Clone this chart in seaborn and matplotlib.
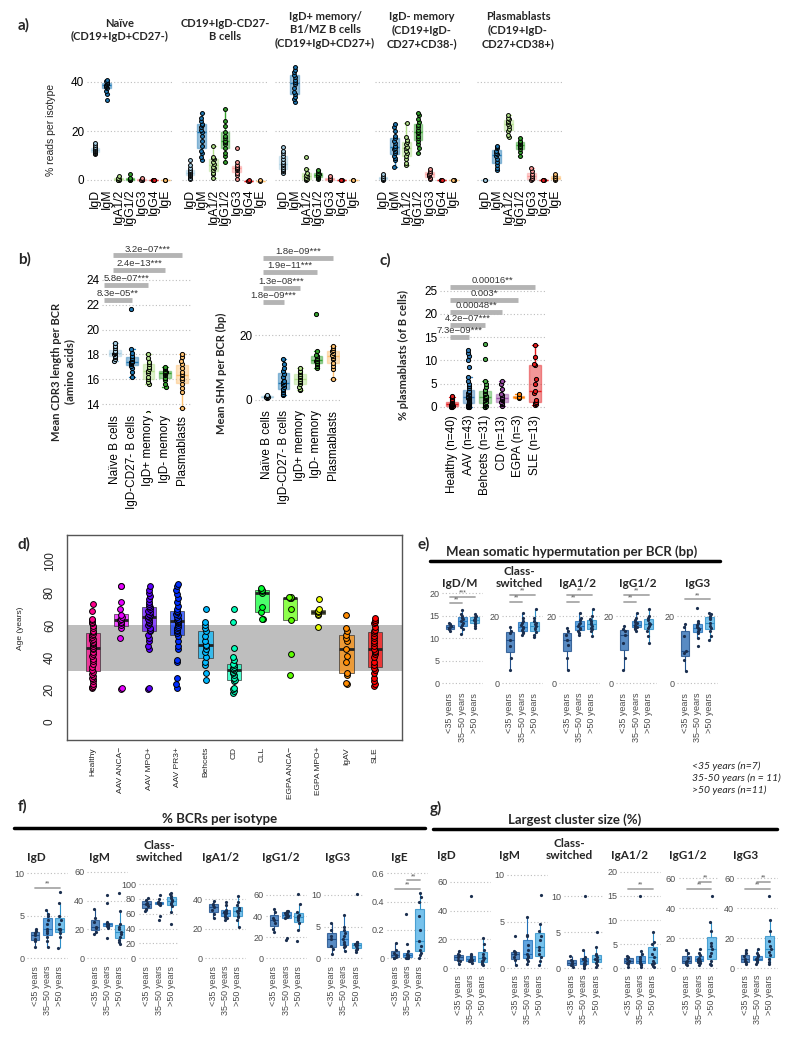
import numpy as np
import matplotlib
matplotlib.use("Agg")
import matplotlib.pyplot as plt
import seaborn as sns
from matplotlib.lines import Line2D

sns.set_style("white")
plt.rcParams["font.family"] = ["Liberation Sans", "DejaVu Sans"]
BOLD = ["Lato", "DejaVu Sans"]

# ---------------- a) % reads per isotype ----------------
isotypes = ["IgD", "IgM", "IgA1/2", "IgG1/2", "IgG3", "IgG4", "IgE"]
cell_titles = ["Naïve\n(CD19+IgD+CD27-)", "CD19+IgD-CD27-\nB cells",
               "IgD+ memory/\nB1/MZ B cells\n(CD19+IgD+CD27+)",
               "IgD- memory\n(CD19+IgD-\nCD27+CD38-)", "Plasmablasts\n(CD19+IgD-\nCD27+CD38+)"]
naive_reads = [[10.5, 11, 11.2, 11.5, 11.8, 12, 12.3, 12.6, 13, 13.5, 14.2, 15],
               [32.5, 35, 36.5, 37.5, 38, 38.3, 38.7, 39, 39.3, 39.7, 40, 40.3, 40.8],
               [0, 0.1, 0.2, 0.4, 0.7, 1.5],
               [0, 0.1, 0.3, 0.5, 1.0, 2.5],
               [0, 0.1, 0.2, 0.4, 0.8],
               [0, 0.05, 0.1, 0.2],
               [0, 0.05, 0.1]]
dn_reads = [[0.5, 1, 1.5, 2, 2.2, 2.5, 3, 3.2, 3.6, 4.2, 5, 6, 8],
            [8, 9.5, 11, 12, 14, 16, 18, 19.5, 20.5, 21.5, 22.5, 23, 24, 25.5, 27.5],
            [1, 2.5, 3, 4, 5, 5.5, 6.5, 7.5, 8.5, 9, 9.5, 14],
            [7.5, 10, 11, 13, 14.5, 15.5, 16, 17, 18, 19.5, 22, 24, 29],
            [0.5, 2, 3, 4, 4.5, 5, 5.5, 6, 7.5, 13],
            [-0.4, -0.3, -0.2],
            [-0.3, -0.2]]
igdp_reads = [[3, 3.5, 4, 4.5, 5.5, 6, 6.5, 7.5, 8.5, 10, 11, 12, 13.5],
              [32, 33, 34, 35, 36, 37.5, 39, 40, 41, 42, 43, 44, 45, 46],
              [0, 0.3, 0.6, 1, 1.5, 2, 3, 4.5, 9.5],
              [0.5, 1, 1.3, 1.6, 2, 2.2, 2.5, 3, 3.5, 4],
              [0, 0.2, 0.5, 1, 1.5],
              [0, 0.1, 0.2],
              [0, 0.1]]
igdn_reads = [[0, 0.3, 0.6, 1, 1.5, 2.5],
              [5.5, 8, 9, 10, 11, 12, 12.5, 13, 14, 15, 16, 17, 18, 20, 21.5, 23],
              [6, 7, 8.5, 10, 11, 12, 13, 13.5, 14.5, 15.5, 16.5, 17.5, 23.3],
              [11, 13, 14.5, 16, 17, 18, 19, 19.5, 20.5, 21.5, 22.5, 23.5, 25, 26.5, 27.5],
              [0.5, 1, 1.5, 2, 2.5, 3, 3.5, 4.5],
              [0, 0.1, 0.2],
              [0, 0.1, 0.2]]
pb_reads = [[0, 0.05],
            [4, 5, 6, 7.5, 8.5, 10, 10.5, 11, 12, 13, 13.5, 14],
            [17.5, 18.5, 20, 21, 22, 23, 23.5, 24, 25, 25.5, 26.5],
            [10, 11.5, 12.5, 13.5, 14, 14.5, 15, 15.5, 16, 17],
            [0, 0.3, 0.8, 1.5, 2.5, 3.5, 5],
            [0, 0.1, 0.2],
            [0, 0.3, 1, 1.5, 2.5]]

# ---------------- b) CDR3 / SHM per cell type ----------------
cell_types = ["Naïve B cells", "IgD-CD27- B cells", "IgD+ memory", "IgD- memory", "Plasmablasts"]
cdr3_vals = [[17.5, 17.6, 17.8, 17.9, 18, 18.1, 18.1, 18.2, 18.3, 18.5, 18.7, 18.9],
             [16.2, 16.6, 16.9, 17.1, 17.2, 17.3, 17.4, 17.4, 17.5, 17.6, 17.7, 17.9, 18.1, 18.4, 21.7],
             [13.3, 15.6, 15.8, 16, 16.2, 16.5, 16.7, 16.8, 17, 17.2, 17.4, 17.7, 18],
             [15.4, 15.6, 15.9, 16.1, 16.3, 16.4, 16.5, 16.6, 16.6, 16.7, 16.8, 16.9, 17],
             [13.7, 15, 15.3, 15.6, 15.9, 16.1, 16.3, 16.4, 16.6, 16.9, 17.2, 17.5, 17.8, 18]]
cdr3_sig = [("8.3e−05**", -0.65, 1, 22.4), ("5.8e−07***", -0.65, 2, 23.6),
            ("2.4e−13***", -0.1, 3, 24.8), ("3.2e−07***", -0.1, 4, 26.0)]
shm_vals = [[0.6, 0.8, 0.9, 1, 1, 1.1, 1.2, 1.3, 1.5],
            [1.5, 2, 2.5, 3, 3.5, 4, 4.5, 5, 5.5, 6, 7, 8, 9, 10, 11, 12.5],
            [3, 3.5, 4, 5, 5.5, 6, 6.5, 7, 7.5, 8, 8.5, 9, 10],
            [10, 10.5, 11, 11.5, 12, 12, 12.5, 13, 13.5, 14, 15, 26.5],
            [6.5, 9.5, 10.5, 11.5, 12.5, 13, 13.5, 14, 14.5, 15, 15.5, 16, 16.5]]
shm_sig = [("1.8e−09***", -0.25, 1, 30.2), ("1.3e−08***", -0.25, 2, 34.5),
           ("1.9e−11***", -0.25, 3, 39.4), ("1.8e−09***", -0.25, 4, 43.8)]

# ---------------- c) % plasmablasts per disease ----------------
diseases = ["Healthy (n=40)", "AAV (n=43)", "Behcets (n=31)", "CD (n=13)", "EGPA (n=3)", "SLE (n=13)"]
disease_colors = ["#e41a1c", "#377eb8", "#4daf4a", "#984ea3", "#ff7f00", "#e41a1c"]
plasma_vals = [[0, 0, 0.1, 0.1, 0.2, 0.2, 0.3, 0.3, 0.4, 0.4, 0.5, 0.5, 0.6, 0.7, 0.8, 0.9, 1.0, 1.2, 1.4, 1.7, 2.0, 2.2],
               [0, 0, 0, 0.1, 0.2, 0.3, 0.4, 0.5, 0.6, 0.7, 0.8, 0.9, 1.0, 1.1, 1.3, 1.5, 1.7, 1.8, 1.9, 2.0,
                2.0, 2.1, 2.2, 2.4, 2.6, 2.8, 3.0, 3.1, 3.2, 3.4, 4.0, 4.5, 5.0, 5.5, 6.5, 8.5, 10, 11, 11.6, 12.3],
               [0, 0, 0.1, 0.3, 0.5, 0.7, 0.9, 1.1, 1.4, 1.7, 1.9, 2.0, 2.1, 2.4, 2.7, 3.0, 3.3, 3.6, 4.2, 5.0, 5.5, 10.3, 13.5],
               [0.2, 0.5, 0.7, 1.0, 1.4, 1.7, 1.8, 2.1, 2.5, 2.8, 3.8, 4.8, 5.5],
               [1.8, 2.0, 2.7],
               [0.3, 0.5, 0.8, 1.0, 1.5, 3.0, 3.3, 4.8, 6.0, 9.0, 9.3, 10.7, 13.3]]
plasma_sig = [("7.3e−09***", -0.1, 1, 15.0), ("4.2e−07***", -0.1, 2, 17.6), ("0.00048**", -0.1, 3, 20.5),
              ("0.003*", -0.1, 4, 23.0), ("0.00016**", -0.1, 5, 25.8)]

# ---------------- d) age per disease ----------------
age_groups = ["Healthy", "AAV ANCA−", "AAV MPO+", "AAV PR3+", "Behcets", "CD", "CLL",
              "EGPA ANCA−", "EGPA MPO+", "IgAV", "SLE"]
age_colors = ["#FF008B", "#E800FF", "#5D00FF", "#002EFF", "#00B9FF", "#00FFB9", "#00FF2E",
              "#5DFF00", "#E8FF00", "#FF8B00", "#FF0000"]
age_vals = [[20.5, 21.5, 22, 23.5, 25, 26.5, 27, 28, 29.5, 31, 32, 34, 36, 37.5, 39, 40.5, 42, 43.5, 45, 46, 47, 48,
             48.5, 49.5, 50.5, 51.5, 52.5, 53.5, 54.5, 55.5, 56.5, 58, 59.5, 61, 62, 63, 64, 69, 73],
            [20, 20.5, 52, 58, 60, 61, 62, 63, 63.5, 64, 65, 66, 70, 74, 84, 84.5],
            [20, 21, 45, 47, 50, 52, 54, 56, 57, 58, 60, 61, 62, 63, 64, 65, 65.5, 66, 67, 68, 69, 70, 71, 72, 73,
             74, 76, 78, 80, 82, 84],
            [21, 23, 27, 37, 38, 45, 47, 50, 53, 55, 56, 57, 58, 59, 60, 61, 62, 62.5, 63, 63.5, 64, 65, 66, 67, 68,
             69, 70, 72, 74, 77, 79, 82, 84, 85.5],
            [26, 30, 35, 37, 40, 43, 45, 47, 47.5, 50, 53, 56, 58, 60, 62, 70],
            [18, 19, 20, 21, 25, 26, 27, 29, 30, 31, 32, 32.5, 33, 34, 35, 36, 38, 40, 46, 62, 70],
            [63.5, 64, 68, 71, 80, 81, 81.5, 82, 83],
            [29, 42, 63, 70, 76.5, 76.8, 77, 77.3, 77.6],
            [58.5, 66, 67, 68, 68.5, 69, 70, 76],
            [23, 24, 29, 30, 37, 41, 45, 50, 52, 54, 56, 58, 66],
            [22, 23, 25, 27, 30, 32, 33, 35, 37, 40, 42, 43, 44, 45, 47, 49, 50, 52, 53, 55, 56, 57, 59, 61, 62,
             63, 64.5]]
age_band = (31.5, 60)

# ---------------- e/f/g) by age group ----------------
age_bins = ["<35 years", "35–50 years", ">50 years"]
age_fill = ["#2f6eb5", "#3a8fd9", "#55b3e8"]
age_line = ["#1f4f8a", "#2270b8", "#2d8fc8"]

e_titles = ["IgD/M", "Class-\nswitched", "IgA1/2", "IgG1/2", "IgG3"]
e_igdm = [[11.7, 12, 12.3, 12.5, 12.8, 13.2, 13.5],
          [11, 12, 12.5, 13, 13.5, 13.8, 14.2, 14.6, 15, 15.5, 16.3],
          [12.3, 12.8, 13.2, 13.5, 13.8, 14, 14.2, 14.5, 14.8, 15, 15.3]]
e_cs = [[4.1, 7.5, 11.2, 13, 14.8, 15.6, 16.8],
        [14.3, 14.8, 15.2, 15.8, 16.3, 16.8, 17.2, 17.8, 18.5, 19.5, 21],
        [13.8, 14.5, 15.3, 16, 16.5, 17, 17.5, 18, 18.5, 19.5, 22]]
e_iga = [[4.1, 7.5, 11.5, 13, 14.5, 15.5, 16.5],
         [14.5, 15, 15.5, 16, 16.5, 17, 17.5, 18, 18.8, 19.5, 21],
         [14, 15.5, 16, 16.5, 17, 17.5, 18, 18.5, 19, 20, 22]]
e_igg = [[4.1, 7.5, 12, 14.5, 15.5, 16.2, 17],
         [15.5, 16, 16.5, 16.8, 17, 17.3, 17.8, 18.2, 18.8, 19.5, 21],
         [12, 14, 15.5, 16.5, 17, 17.5, 18, 18.8, 19.5, 20, 22]]
e_igg3 = [[3.8, 7, 9, 9.5, 14, 16.8, 17.7],
          [11, 13.5, 15, 15.5, 16, 16.3, 16.8, 17.3, 17.8, 18.5, 22.5],
          [13, 14, 15.5, 16.5, 17, 18, 19, 19.5, 20, 20.5, 21]]
e_sigs = [[(0, 1, 17.8, "**"), (0, 2, 19.2, "***")],
          [(0, 1, 24.3, "**"), (0, 2, 26.2, "**")],
          [(0, 1, 24.3, "**"), (0, 2, 26.2, "**")],
          [(0, 1, 24.3, "**"), (0, 2, 26.2, "**")],
          [(0, 2, 25.0, "**")]]

f_titles = ["IgD", "IgM", "Class-\nswitched", "IgA1/2", "IgG1/2", "IgG3", "IgE"]
f_igd = [[1.3, 2, 2.3, 2.7, 3, 3.2, 3.4],
         [1.3, 2, 2.5, 3, 3.2, 3.5, 4, 4.5, 5, 5.2, 5.7],
         [1.2, 2.5, 3, 3.3, 3.5, 4, 4.5, 5, 6.5, 7.8, 3.4]]
f_igm = [[17, 18, 21, 22, 25, 28, 34],
         [14, 21, 22, 22.5, 23, 23.5, 24, 24.5, 25, 38, 44],
         [10, 11, 12.5, 15, 17, 18, 20, 22, 24, 33, 45]]
f_cs = [[64, 66, 70, 73, 75, 78, 81],
        [52, 57, 72, 73, 74, 74, 75, 75, 76, 80, 85],
        [46, 62, 70, 73, 75, 77, 79, 81, 84, 86, 88]]
f_iga = [[27, 30, 33, 35, 36, 37, 39],
         [26, 27, 28, 29, 30, 31, 31.5, 32, 33, 36, 38],
         [21, 26, 28, 29, 31, 32, 33, 34, 36, 38, 42]]
f_igg = [[25, 28, 33, 36, 38, 44, 47],
         [17, 19, 38, 39, 40, 41, 42, 43, 44, 44.5, 45],
         [16, 27, 33, 36, 38, 39, 40, 41, 44, 51, 61]]
f_igg3 = [[0.7, 1.5, 2, 3, 3.5, 4.5, 5.5],
          [1.2, 1.8, 2, 2.3, 2.6, 3, 3.5, 4, 4.5, 5, 6.8],
          [1, 1.3, 1.5, 1.7, 2, 2.1, 2.3, 2.4, 2.5, 2.6, 10.2]]
f_ige = [[0, 0.005, 0.01, 0.02, 0.04, 0.06, 0.11],
         [0, 0, 0.005, 0.01, 0.01, 0.02, 0.02, 0.03, 0.05, 0.1, 0.31],
         [0, 0.02, 0.04, 0.06, 0.09, 0.12, 0.2, 0.3, 0.4, 0.43, 0.46]]
f_sigs = [[(0, 2, 8.3, "**")], [], [], [], [], [], [(0, 2, 0.49, "**"), (1, 2, 0.55, "**")]]

g_titles = ["IgD", "IgM", "Class-\nswitched", "IgA1/2", "IgG1/2", "IgG3"]
g_igd = [[3, 5, 6, 8, 9, 10, 12],
         [4, 5, 5, 5.5, 6, 6.5, 7, 8, 9, 10, 50],
         [2, 3, 4, 5, 6, 7, 8, 10, 13, 17, 21]]
g_igm = [[0.4, 0.9, 1.2, 1.5, 1.7, 1.9, 3.5],
         [0.5, 0.8, 1.0, 1.2, 1.3, 1.5, 2, 2.5, 3.5, 3.6, 5.5],
         [0.4, 0.8, 1.2, 1.5, 2, 2.3, 3, 3.5, 4, 4.7, 7.9]]
g_cs = [[0.2, 0.4, 0.6, 0.8, 1, 1.2, 1.7],
        [0.1, 0.3, 0.5, 0.6, 0.8, 1, 1.1, 1.3, 1.5, 2.5, 10],
        [0.2, 0.5, 0.8, 1, 1.2, 1.5, 1.8, 2, 3, 5, 1.3]]
g_iga = [[0.3, 0.8, 1.2, 1.6, 2, 2.3, 2.5],
         [0.3, 0.6, 0.9, 1.2, 1.4, 1.6, 2, 2.3, 3, 3.5, 15],
         [0.2, 0.5, 0.9, 1.2, 1.6, 2.3, 3, 4, 5, 5.5, 7.5]]
g_igg = [[2, 3, 4, 5, 7, 10, 12],
         [2.5, 3.5, 4.5, 5, 5.5, 6, 6.5, 7, 9, 10.5, 13],
         [2, 3, 5, 8, 10, 13, 15, 17, 25, 31, 48]]
g_igg3 = [[3, 4, 5, 6, 8, 10, 12],
          [3, 4, 5, 5.5, 6, 6.5, 7, 8, 9, 10, 13],
          [3, 4, 6, 9, 11, 13, 15, 18, 25, 32, 48]]
g_sigs = [[], [], [], [(0, 2, 16.4, "**")], [(0, 2, 52.9, "**"), (1, 2, 57.8, "**")],
          [(0, 2, 52.9, "**"), (1, 2, 57.8, "**")]]

# ---------------- helpers ----------------
W, H = 800, 1038
fig = plt.figure(figsize=(8, 10.38), dpi=100)


def new_ax(x0, y0, x1, y1):
    return fig.add_axes([x0 / W, 1 - y1 / H, (x1 - x0) / W, (y1 - y0) / H])


def set_lims(ax, x0, y0, x1, y1, c0, dc, va, pa, vb, pb):
    # map pixel box onto data: category 0 at c0 (spacing dc), value va at pa, vb at pb
    ax.set_xlim((x0 - c0) / dc, (x1 - c0) / dc)
    k = (vb - va) / (pa - pb)
    ax.set_ylim(va - (y1 - pa) * k, va + (pa - y0) * k)


def ftext(x, y, s, **kw):
    fig.text(x / W, 1 - y / H, s, **kw)


def r_boxes(ax, groups, colors, size=3.0, alpha=0.45, width=0.7):
    for i, vals in enumerate(groups):
        x = np.full(len(vals), i)
        sns.boxplot(x=x, y=vals, native_scale=True, color=colors[i], linecolor=colors[i], saturation=1,
                    width=width, linewidth=1.0, showfliers=False, boxprops=dict(alpha=alpha), ax=ax)
        sns.stripplot(x=x, y=vals, native_scale=True, color=colors[i], edgecolor="black", linewidth=0.7,
                      size=size, jitter=0.04, zorder=3, ax=ax)


def gg_boxes(ax, groups):
    for i, vals in enumerate(groups):
        x = np.full(len(vals), i)
        sns.boxplot(x=x, y=vals, native_scale=True, color=age_fill[i], linecolor=age_line[i], saturation=1,
                    width=0.72, linewidth=0.8, showfliers=False, boxprops=dict(alpha=0.8),
                    capprops=dict(linewidth=0), ax=ax)
        sns.stripplot(x=x, y=vals, native_scale=True, color="#1b2f4f", size=2.3, jitter=0.1,
                      zorder=3, ax=ax)


def clean(ax, ticks, labelsize=8, color="black", show_y=True):
    for s in ax.spines.values():
        s.set_visible(False)
    ax.set_yticks(ticks)
    ax.set_yticklabels([f"{t:g}" for t in ticks] if show_y else [])
    ax.yaxis.grid(True, linestyle=(0, (1, 2)), color="#bdbdbd", linewidth=0.8)
    ax.xaxis.grid(False)
    ax.set_axisbelow(True)
    ax.tick_params(length=0, labelsize=labelsize, labelcolor=color, pad=2)
    ax.set_xlabel("")
    ax.set_ylabel("")


def big_sig(ax, sigs):
    for label, xa, xb, y in sigs:
        ax.plot([xa, xb], [y, y], color="#b4b4b4", lw=3.5, solid_capstyle="butt", clip_on=False)
        ax.annotate(label, ((xa + xb) / 2, y), xytext=(0, 1.2), textcoords="offset points",
                    ha="center", va="bottom", fontsize=6.8, color="#333333", annotation_clip=False)


def small_sig(ax, sigs):
    for a, b, y, label in sigs:
        ax.plot([a, b], [y, y], color="#a8a8a8", lw=1.3, clip_on=False)
        ax.annotate(label, ((a + b) / 2, y), xytext=(0, 0.2), textcoords="offset points",
                    ha="center", va="bottom", fontsize=4.8, color="#555555", annotation_clip=False)


# ---------------- panel a ----------------
paired = sns.color_palette("Paired")
iso_colors = [paired[i] for i in range(7)]
a_sets = [naive_reads, dn_reads, igdp_reads, igdn_reads, pb_reads]
a_c0 = [95, 190, 283, 383, 485]
a_tx = [120, 225, 325, 422, 518]
for j, reads in enumerate(a_sets):
    c0 = a_c0[j]
    x0, x1 = c0 - 8, c0 + 6 * 11.7 + 8
    ax = new_ax(x0, 60, x1, 186)
    r_boxes(ax, reads, iso_colors, size=2.8, width=0.75)
    clean(ax, [0, 20, 40], labelsize=8.5, show_y=(j == 0))
    ax.set_xticks(range(7))
    ax.set_xticklabels(isotypes, rotation=90, fontsize=8.8)
    set_lims(ax, x0, 60, x1, 186, c0, 11.7, 0, 180, 40, 82)
    ftext(a_tx[j], 30, cell_titles[j], ha="center", va="center", fontsize=8, fontweight="bold",
          family=BOLD, linespacing=1.25)
ftext(51, 130, "% reads per isotype", rotation=90, ha="center", va="center", fontsize=7.5)
ftext(18, 25, "a)", fontsize=11, fontweight="bold", family=BOLD, va="center")

# ---------------- panel b ----------------
b_colors = [paired[0], paired[1], paired[2], paired[3], paired[6]]
ax = new_ax(102, 245, 192, 412)
r_boxes(ax, cdr3_vals, b_colors, size=3.0)
clean(ax, [14, 16, 18, 20, 22, 24], labelsize=8.5)
ax.set_xticks(range(5))
ax.set_xticklabels(cell_types, rotation=90, fontsize=8.5)
set_lims(ax, 102, 245, 192, 412, 115, 16.7, 14, 404, 24, 280)
big_sig(ax, cdr3_sig)
ftext(63, 372, "Mean CDR3 length per BCR\n(amino acids)", rotation=90, ha="center", va="center",
      fontsize=8, fontweight="bold", family=BOLD)

ax = new_ax(255, 245, 340, 407)
r_boxes(ax, shm_vals, b_colors, size=3.0)
clean(ax, [0, 20], labelsize=8.5)
ax.set_xticks(range(5))
ax.set_xticklabels(cell_types, rotation=90, fontsize=8.5)
set_lims(ax, 255, 245, 340, 407, 267, 16.5, 0, 400, 20, 335)
big_sig(ax, shm_sig)
ftext(221, 373, "Mean SHM per BCR (bp)", rotation=90, ha="center", va="center",
      fontsize=8, fontweight="bold", family=BOLD)
ftext(18, 259, "b)", fontsize=11, fontweight="bold", family=BOLD, va="center")

# ---------------- panel c ----------------
ax = new_ax(440, 285, 545, 412)
r_boxes(ax, plasma_vals, disease_colors, size=3.0)
clean(ax, [0, 5, 10, 15, 20, 25], labelsize=8.5)
ax.set_xticks(range(6))
ax.set_xticklabels(diseases, rotation=90, fontsize=8.5)
set_lims(ax, 440, 285, 545, 412, 452, 16.6, 0, 406.7, 25, 290.7)
big_sig(ax, plasma_sig)
ftext(403, 355, "% plasmablasts (of B cells)", rotation=90, ha="center", va="center",
      fontsize=8, fontweight="bold", family=BOLD)
ftext(379, 260, "c)", fontsize=11, fontweight="bold", family=BOLD, va="center")

# ---------------- panel d ----------------
ax = new_ax(67, 535, 402, 740)
ax.axhspan(*age_band, color="#bebebe", zorder=0, lw=0)
for i, vals in enumerate(age_vals):
    x = np.full(len(vals), i)
    sns.boxplot(x=x, y=vals, native_scale=True, color=age_colors[i], linecolor="#333333", saturation=1,
                width=0.5, linewidth=0.7, showfliers=False, boxprops=dict(alpha=0.7),
                medianprops=dict(color="#222222", linewidth=2), whiskerprops=dict(linewidth=0),
                capprops=dict(linewidth=0), ax=ax)
    sns.stripplot(x=x, y=vals, native_scale=True, color=age_colors[i], edgecolor="black", linewidth=0.7,
                  size=4.2, jitter=0.03, zorder=3, ax=ax)
for s in ax.spines.values():
    s.set_color("#555555")
    s.set_linewidth(1.0)
ax.set_yticks([0, 20, 40, 60, 80, 100])
ax.set_yticklabels(["0", "20", "40", "60", "80", "100"], rotation=90, va="center", fontsize=8.5)
ax.tick_params(axis="y", length=5, width=0.8, color="#555555", pad=3)
ax.set_xticks(range(11))
ax.set_xticklabels(age_groups, rotation=90, fontsize=6)
ax.tick_params(axis="x", length=0, pad=5)
ax.set_xlabel("")
ax.set_ylabel("")
set_lims(ax, 67, 535, 402, 740, 92.7, 28.2, 20, 689.3, 100, 560.7)
ftext(21, 628, "Age (years)", rotation=90, ha="center", va="center", fontsize=6)
ftext(17, 544, "d)", fontsize=11, fontweight="bold", family=BOLD, va="center")

# ---------------- panel e ----------------
ftext(417, 544, "e)", fontsize=11, fontweight="bold", family=BOLD, va="center")
ftext(572, 558, "Mean somatic hypermutation per BCR (bp)", ha="center", va="bottom", fontsize=9.5,
      fontweight="bold", family=BOLD)
fig.add_artist(Line2D([430 / W, 720 / W], [1 - 561 / H] * 2, color="black", lw=2.5))
e_sets = [e_igdm, e_cs, e_iga, e_igg, e_igg3]
e_c0 = [450, 510, 567, 624, 685]
e_tx = [460, 519, 577, 638, 698]
for j, groups in enumerate(e_sets):
    c0 = e_c0[j]
    x0, x1 = c0 - 8, c0 + 2 * 12.3 + 8
    ax = new_ax(x0, 588, x1, 690)
    gg_boxes(ax, groups)
    ticks = [0, 5, 10, 15, 20] if j == 0 else [0, 20]
    clean(ax, ticks, labelsize=6.5, color="#4d4d4d")
    ax.set_xticks(range(3))
    ax.set_xticklabels(age_bins, rotation=90, fontsize=6.5, color="#4d4d4d")
    if j == 0:
        set_lims(ax, x0, 588, x1, 690, c0, 12.3, 0, 683.3, 20, 593.3)
    else:
        set_lims(ax, x0, 588, x1, 690, c0, 12.3, 0, 683.3, 20, 616)
    small_sig(ax, e_sigs[j])
    ftext(e_tx[j], 589, e_titles[j], ha="center", va="bottom", fontsize=8.5, fontweight="bold",
          family=BOLD, linespacing=1.15)

ftext(692, 778, "<35 years (n=7)\n35-50 years (n = 11)\n>50 years (n=11)", ha="left", va="center",
      fontsize=7.5, style="italic", family=["Lato", "DejaVu Sans"], linespacing=1.35)

# ---------------- panel f ----------------
ftext(18, 806, "f)", fontsize=11, fontweight="bold", family=BOLD, va="center")
ftext(220, 825, "% BCRs per isotype", ha="center", va="bottom", fontsize=9.5, fontweight="bold", family=BOLD)
fig.add_artist(Line2D([14 / W, 425 / W], [1 - 828 / H] * 2, color="black", lw=2.5))
f_sets = [f_igd, f_igm, f_cs, f_iga, f_igg, f_igg3, f_ige]
f_c0 = [35, 95, 146.7, 213.3, 274, 331.7, 395]
f_tx = [36, 99, 159, 220, 281, 338, 399]
f_ticks = [[0, 5, 10], [0, 20, 40, 60], [0, 20, 40, 60, 80, 100], [0, 20, 40], [0, 20, 40, 60],
           [0, 5, 10], [0, 0.2, 0.4, 0.6]]
f_top = [(10, 873.3), (60, 871.7), (100, 884), (40, 899.3), (60, 895), (10, 895), (0.6, 873.3)]
for j, groups in enumerate(f_sets):
    c0 = f_c0[j]
    x0, x1 = c0 - 8, c0 + 2 * 12.3 + 8
    ax = new_ax(x0, 866, x1, 963)
    gg_boxes(ax, groups)
    clean(ax, f_ticks[j], labelsize=6.5, color="#4d4d4d")
    ax.set_xticks(range(3))
    ax.set_xticklabels(age_bins, rotation=90, fontsize=6.5, color="#4d4d4d")
    set_lims(ax, x0, 866, x1, 963, c0, 12.3, 0, 958.3, f_top[j][0], f_top[j][1])
    small_sig(ax, f_sigs[j])
    ftext(f_tx[j], 863, f_titles[j], ha="center", va="bottom", fontsize=8.5, fontweight="bold",
          family=BOLD, linespacing=1.15)

# ---------------- panel g ----------------
ftext(430, 808, "g)", fontsize=11, fontweight="bold", family=BOLD, va="center")
ftext(575, 826, "Largest cluster size (%)", ha="center", va="bottom", fontsize=9.5, fontweight="bold",
      family=BOLD)
fig.add_artist(Line2D([433 / W, 777 / W], [1 - 829 / H] * 2, color="black", lw=2.5))
g_sets = [g_igd, g_igm, g_cs, g_iga, g_igg, g_igg3]
g_c0 = [458.3, 515, 571.7, 628.3, 686.7, 745]
g_tx = [446, 509, 569, 630, 688, 746]
g_ticks = [[0, 20, 40, 60], [0, 5, 10], [0, 5, 10], [0, 5, 10, 15, 20], [0, 20, 40, 60], [0, 20, 40, 60]]
g_top = [(60, 881.7), (10, 875), (10, 896), (20, 871.7), (60, 878.3), (60, 878.3)]
for j, groups in enumerate(g_sets):
    c0 = g_c0[j]
    x0, x1 = c0 - 8, c0 + 2 * 12.3 + 8
    ax = new_ax(x0, 866, x1, 972)
    gg_boxes(ax, groups)
    clean(ax, g_ticks[j], labelsize=6.5, color="#4d4d4d")
    ax.set_xticks(range(3))
    ax.set_xticklabels(age_bins, rotation=90, fontsize=6.5, color="#4d4d4d")
    set_lims(ax, x0, 866, x1, 972, c0, 12.3, 0, 968.3, g_top[j][0], g_top[j][1])
    small_sig(ax, g_sigs[j])
    ftext(g_tx[j], 861, g_titles[j], ha="center", va="bottom", fontsize=8.5, fontweight="bold",
          family=BOLD, linespacing=1.15)

fig.savefig("out.png", dpi=100, facecolor="white")
